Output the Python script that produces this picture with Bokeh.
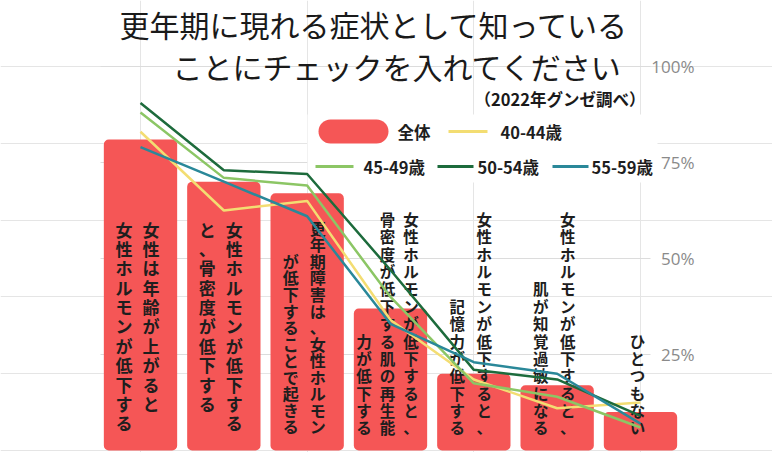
from bokeh.plotting import figure
from bokeh.models import Range1d
from bokeh.core.properties import value
from bokeh.embed import file_html
from bokeh.resources import INLINE

# ---------------- data ----------------
title_lines = ["更年期に現れる症状として知っている", "ことにチェックを入れてください"]
subtitle = "（2022年グンゼ調べ）"
categories = [
    "女性は年齢が上がると\n女性ホルモンが低下する",
    "女性ホルモンが低下する\nと、骨密度が低下する",
    "更年期障害は、女性ホルモン\nが低下することで起きる",
    "女性ホルモンが低下すると、\n骨密度が低下する肌の再生能\n力が低下する",
    "女性ホルモンが低下すると、\n記憶力が低下する",
    "女性ホルモンが低下すると、\n肌が知覚過敏になる",
    "ひとつもない",
]
overall = [81, 70, 67, 37, 20, 17, 10]
age_40_44 = [83, 62.5, 65, 34, 18.5, 11, 12.5]
age_45_49 = [88, 71, 69, 40, 17.5, 14, 6]
age_50_54 = [90.5, 73, 72, 47, 21, 18.5, 9]
age_55_59 = [79, 70, 61, 33, 23, 20, 7]
series_names = ["全体", "40-44歳", "45-49歳", "50-54歳", "55-59歳"]
y_ticks = [25, 50, 75, 100]
y_tick_labels = ["25%", "50%", "75%", "100%"]

# ---------------- styles / layout ----------------
RED = "#F55656"
LINE_COLORS = ["#F3DD72", "#8CC665", "#1D6B3C", "#2A8899"]
JP = value("Noto Sans CJK JP")
W, H = 772, 452
PAGE = 0
CAT0, STEP = 140.0, 83.33      # page x of first category, px per category
ZERO, PPP = 450.0, 3.84        # page y of 0 %, px per percent


def X(px):
    return (px - CAT0) / STEP


def Y(py):
    return (ZERO - py) / PPP


p = figure(width=W, height=H,
           x_range=Range1d(X(PAGE), X(PAGE + W)),
           y_range=Range1d(Y(PAGE + H), Y(PAGE)),
           output_backend="svg", toolbar_location=None,
           x_axis_location=None, y_axis_location=None,
           min_border=0, outline_line_color=None)
p.background_fill_color = "white"
p.border_fill_color = "white"

idx = list(range(len(categories)))

# grid lines
p.segment(x0=[X(100)] * len(y_ticks), x1=[X(650)] * len(y_ticks),
          y0=y_ticks, y1=y_ticks, line_color="#dcdcdc", line_width=1)
# tick labels (right side)
p.text(x=[X(694)] * len(y_ticks), y=y_ticks, text=y_tick_labels,
       text_font=value("Open Sans"), text_font_size="17px",
       text_color="#8a8a8a", text_align="right", text_baseline="middle")

# legend background
p.rect(x=[X(482)], y=[Y(148)], width=350, height=68,
       width_units="screen", height_units="screen",
       fill_color="white", line_color=None)

# bars
p.vbar(x=idx, top=overall, bottom=0, width=0.88, fill_color=RED,
       line_color=None, border_radius=5)

# vertical category labels (written right-to-left in columns)
label_size = ["17px", "17px", "16px", "15.5px", "15.5px", "15.5px", "15.5px"]
label_lh = [0.775, 0.775, 0.69, 0.79, 0.79, 0.79, 0.79]
label_top = [True, True, False, False, False, False, False]
for i, cat in enumerate(categories):
    cols = cat.split("\n")
    n = len(cols)
    sp = 27 if n <= 2 else 23.5
    for j, col in enumerate(cols):
        off = (n - 1) / 2 * sp - j * sp - 3
        txt = "\n".join(list(col))
        if label_top[i]:
            yy, base = Y(216), "top"
        else:
            yy, base = Y(438), "bottom"
        p.text(x=[i], y=[yy], text=[txt], x_offset=off,
               text_font=JP, text_font_size=label_size[i],
               text_font_style="bold",
               text_line_height=label_lh[i], text_color="#1e1e1e",
               text_align="center", text_baseline=base)

# lines
for s, c in zip([age_40_44, age_45_49, age_50_54, age_55_59], LINE_COLORS):
    p.line(x=idx, y=s, line_color=c, line_width=2.5)

# legend (drawn by hand)
p.rect(x=[X(353)], y=[Y(131)], width=70, height=24,
       width_units="screen", height_units="screen",
       fill_color=RED, line_color=None, border_radius=12)
leg_lines = [(448, 487, 131), (315, 353, 166), (437, 473, 166), (552, 588, 166)]
leg_text = [(397, 131), (500, 131), (363, 166), (477, 166), (591, 166)]
for (x0, x1, yy), c in zip(leg_lines, LINE_COLORS):
    p.segment(x0=[X(x0)], x1=[X(x1)], y0=[Y(yy)], y1=[Y(yy)],
              line_color=c, line_width=3)
for (xx, yy), name in zip(leg_text, series_names):
    p.text(x=[X(xx)], y=[Y(yy)], text=[name], text_font=JP,
           text_font_size="16.5px", text_font_style="bold",
           text_color="#1e1e1e",
           text_align="left", text_baseline="middle")

# title & subtitle
p.text(x=[X(374)], y=[Y(23)], text=[title_lines[0]], text_font=JP,
       text_font_size="30px", text_color="#1a1a1a",
       text_align="center", text_baseline="middle")
p.text(x=[X(397)], y=[Y(65)], text=[title_lines[1]], text_font=JP,
       text_font_size="30px", text_color="#1a1a1a",
       text_align="center", text_baseline="middle")
p.text(x=[X(645)], y=[Y(98)], text=[subtitle], text_font=JP,
       text_font_size="16.5px", text_font_style="bold", text_color="#1a1a1a",
       text_align="right", text_baseline="middle")

open("out.html", "w").write(file_html(p, INLINE))
